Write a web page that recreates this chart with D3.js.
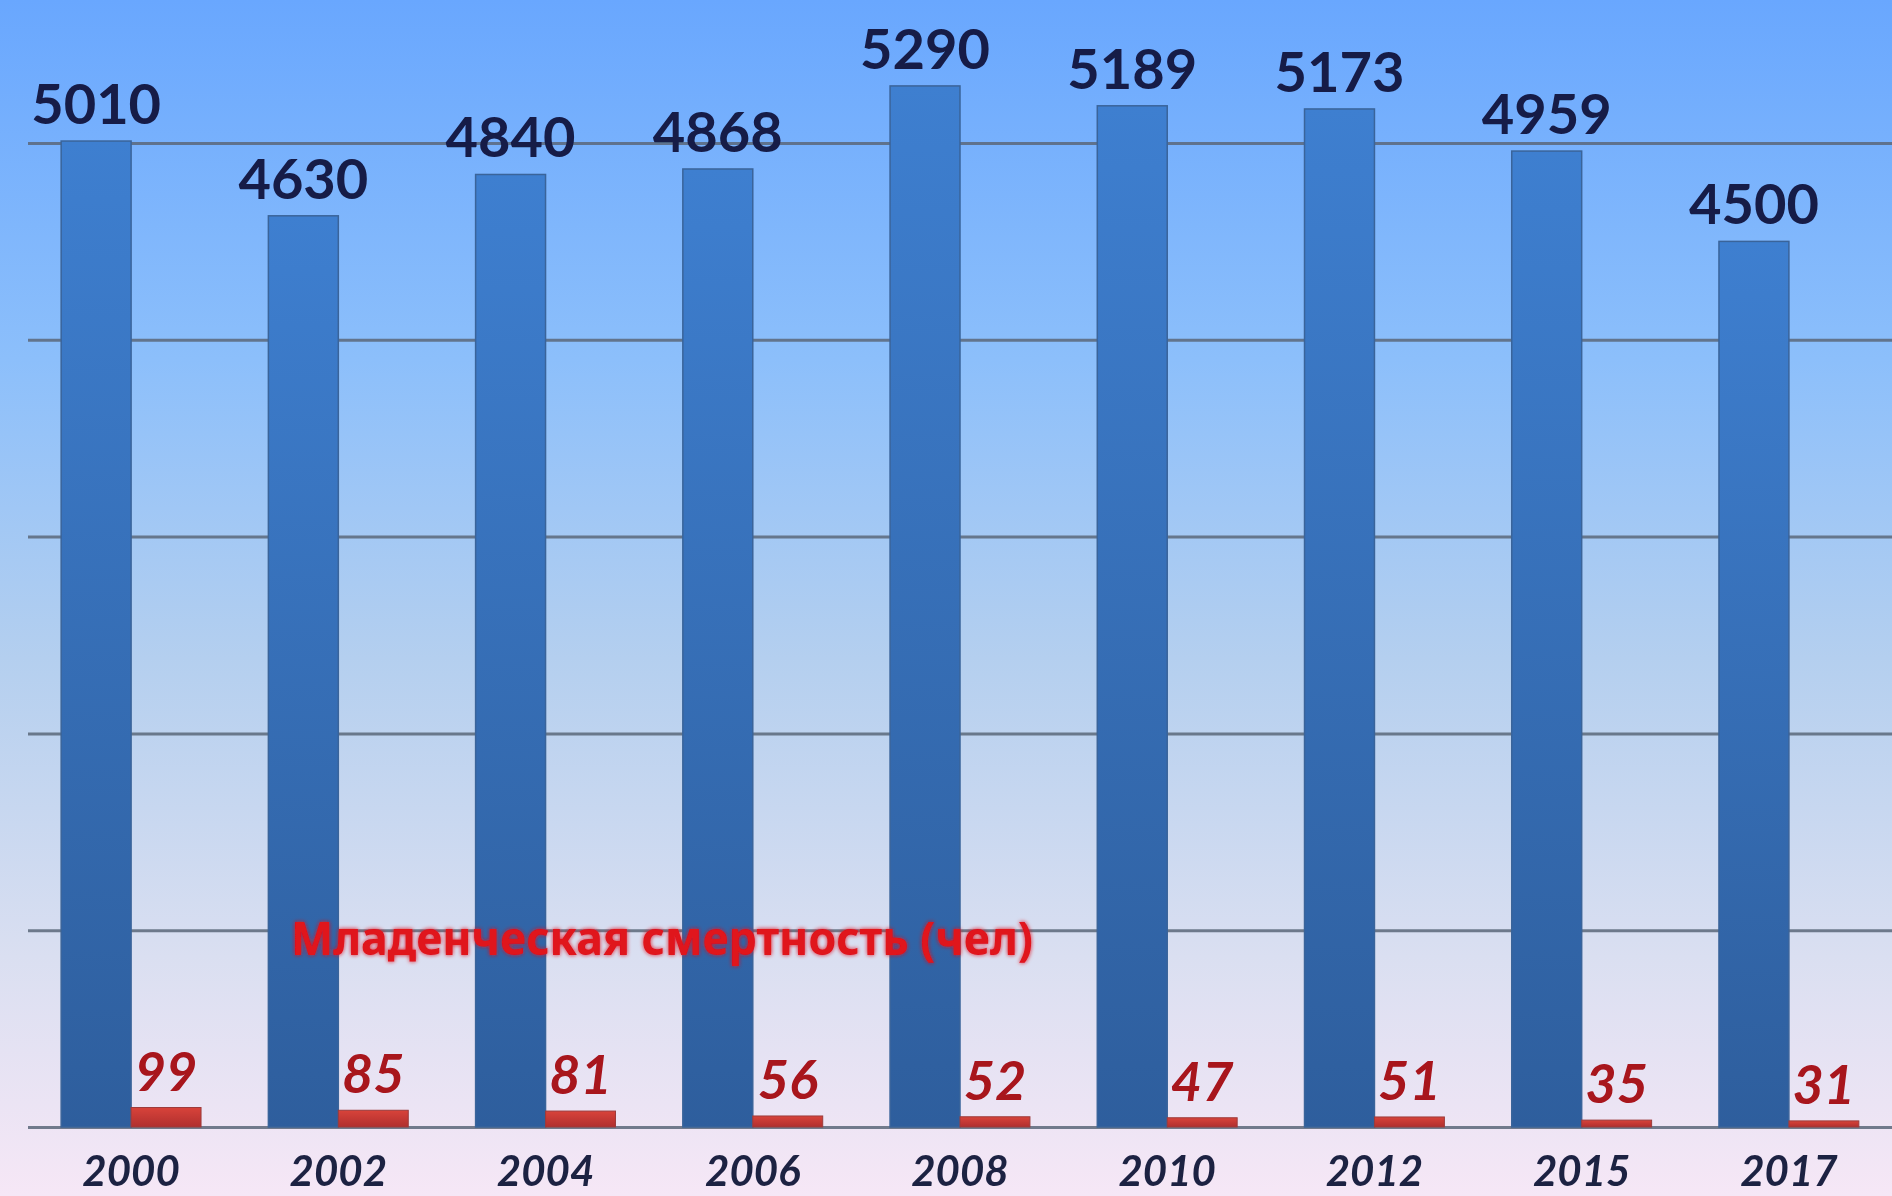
<!DOCTYPE html>
<html>
<head>
<meta charset="utf-8">
<script src="https://cdn.jsdelivr.net/npm/d3@7"></script>
<style>
  html, body { margin: 0; padding: 0; overflow: hidden; }
  svg { display: block; }
</style>
</head>
<body>
<svg id="chart" width="1892" height="1196"></svg>
<script>
// Births and infant deaths by year
const years = ["2000", "2002", "2004", "2006", "2008", "2010", "2012", "2015", "2017"];
const births = [5010, 4630, 4840, 4868, 5290, 5189, 5173, 4959, 4500];
const infantDeaths = [99, 85, 81, 56, 52, 47, 51, 35, 31];
const seriesKeys = ["births", "infantDeaths"];
const gridTicks = [0, 1000, 2000, 3000, 4000, 5000];
const deathsTitle = "Младенческая смертность (чел)";

const W = 1892, H = 1196;
const margin = { left: 28, right: 0, top: 143, bottom: 69 };
const svg = d3.select("#chart");
const defs = svg.append("defs");

// Background: sky blue at the top fading to pale lilac at the bottom
const bg = defs.append("linearGradient").attr("id", "bg")
  .attr("x1", 0).attr("y1", 0).attr("x2", 0).attr("y2", 1);
[[0, "#69a7fe"], [0.3, "#8cbffb"], [0.55, "#b4cfef"], [0.8, "#dadff1"], [1, "#f6e7f6"]]
  .forEach(([o, c]) => bg.append("stop").attr("offset", o).attr("stop-color", c));

const gBlue = defs.append("linearGradient").attr("id", "gBlue")
  .attr("x1", 0).attr("y1", 0).attr("x2", 0).attr("y2", 1);
gBlue.append("stop").attr("offset", 0).attr("stop-color", "#3e7fd0");
gBlue.append("stop").attr("offset", 1).attr("stop-color", "#2e5e9d");

const gRed = defs.append("linearGradient").attr("id", "gRed")
  .attr("x1", 0).attr("y1", 0).attr("x2", 0).attr("y2", 1);
gRed.append("stop").attr("offset", 0).attr("stop-color", "#d8433a");
gRed.append("stop").attr("offset", 1).attr("stop-color", "#b02f2f");

const glow = defs.append("filter").attr("id", "glow")
  .attr("x", "-5%").attr("y", "-30%").attr("width", "110%").attr("height", "160%");
glow.append("feGaussianBlur").attr("in", "SourceGraphic").attr("stdDeviation", 2.2).attr("result", "b");
const fm = glow.append("feMerge");
fm.append("feMergeNode").attr("in", "b");
fm.append("feMergeNode").attr("in", "SourceGraphic");

const soft = defs.append("filter").attr("id", "soft");
soft.append("feGaussianBlur").attr("stdDeviation", 0.6);

svg.append("rect").attr("width", W).attr("height", H).attr("fill", "url(#bg)");

const y = d3.scaleLinear().domain([0, 5000]).range([H - margin.bottom, margin.top]);
const x = d3.scaleBand().domain(years).range([margin.left, W - margin.right])
  .paddingInner(0.325).paddingOuter(0.16);
const xs = d3.scaleBand().domain(seriesKeys).range([0, x.bandwidth()]);

// Horizontal gridlines, no tick labels
const grid = svg.append("g")
  .attr("transform", `translate(${margin.left},0)`)
  .call(d3.axisLeft(y).tickValues(gridTicks).tickSize(-(W - margin.left)).tickFormat(""));
grid.select(".domain").remove();
grid.selectAll(".tick line")
  .attr("stroke", "#5b6779").attr("stroke-width", 3).attr("stroke-opacity", 0.85);

const rows = years.map((yr, i) => ({ year: yr, births: births[i], infantDeaths: infantDeaths[i] }));

const groups = svg.append("g").selectAll("g").data(rows).join("g")
  .attr("transform", d => `translate(${x(d.year)},0)`);

groups.append("rect")
  .attr("x", xs("births")).attr("width", xs.bandwidth())
  .attr("y", d => y(d.births)).attr("height", d => y(0) - y(d.births))
  .attr("fill", "url(#gBlue)").attr("stroke", "#3a649a").attr("stroke-width", 1.5);

groups.append("rect")
  .attr("x", xs("infantDeaths")).attr("width", xs.bandwidth())
  .attr("y", d => y(d.infantDeaths)).attr("height", d => y(0) - y(d.infantDeaths))
  .attr("fill", "url(#gRed)").attr("stroke", "#9c3b3b").attr("stroke-width", 1);

// Value labels
groups.append("text")
  .attr("x", xs("births") + xs.bandwidth() / 2)
  .attr("y", d => y(d.births) - 17)
  .attr("text-anchor", "middle")
  .attr("font-family", "Lato, 'Noto Sans', sans-serif").attr("font-weight", 700)
  .attr("font-size", 56).attr("fill", "#141b47")
  .attr("filter", "url(#soft)")
  .text(d => d.births);

groups.append("text")
  .attr("x", xs("infantDeaths") + xs.bandwidth() / 2)
  .attr("y", d => y(d.infantDeaths) - 17)
  .attr("text-anchor", "middle")
  .attr("font-family", "Lato, 'Noto Sans', sans-serif").attr("font-weight", 700)
  .attr("font-style", "italic")
  .attr("font-size", 54).attr("fill", "#a8121c")
  .attr("filter", "url(#soft)")
  .text(d => d.infantDeaths);

// Year labels
groups.append("text")
  .attr("x", x.bandwidth() / 2)
  .attr("y", y(0) + 59)
  .attr("text-anchor", "middle")
  .attr("font-family", "Lato, 'Noto Sans', sans-serif").attr("font-weight", 700)
  .attr("font-style", "italic")
  .attr("font-size", 42).attr("fill", "#1c2142")
  .attr("filter", "url(#soft)")
  .text(d => d.year);

// Series name for the infant deaths bars
svg.append("text")
  .attr("x", 662).attr("y", y(1000) + 25)
  .attr("text-anchor", "middle")
  .attr("font-family", "'Noto Sans', 'Open Sans', sans-serif").attr("font-weight", 700)
  .attr("font-size", 46).attr("fill", "#e0121c")
  .attr("textLength", 742).attr("lengthAdjust", "spacingAndGlyphs")
  .attr("filter", "url(#glow)")
  .text(deathsTitle);
</script>
</body>
</html>
